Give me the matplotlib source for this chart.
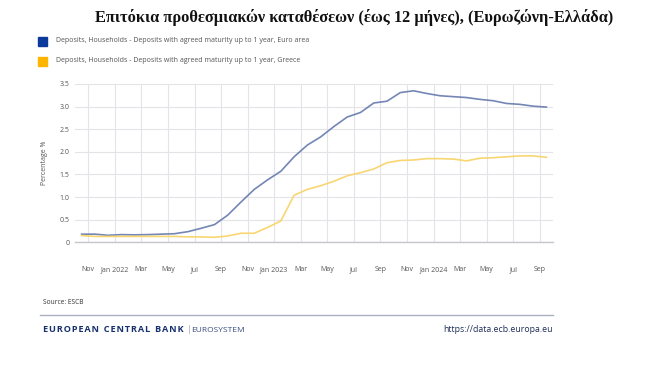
import matplotlib
matplotlib.use("Agg")
import matplotlib.pyplot as plt

# monthly values, Oct 2021 .. Sep 2024
euro_area = [0.18, 0.18, 0.155, 0.17, 0.165, 0.17, 0.18, 0.19, 0.235, 0.31, 0.39, 0.60,
             0.89, 1.17, 1.38, 1.57, 1.89, 2.15, 2.33, 2.56, 2.77, 2.87, 3.08, 3.12,
             3.31, 3.35, 3.29, 3.24, 3.22, 3.20, 3.16, 3.13, 3.07, 3.05, 3.01, 2.99]
greece = [0.15, 0.13, 0.13, 0.13, 0.13, 0.13, 0.13, 0.13, 0.12, 0.12, 0.11, 0.14,
          0.20, 0.20, 0.33, 0.47, 1.04, 1.17, 1.25, 1.35, 1.47, 1.54, 1.62, 1.76,
          1.81, 1.82, 1.85, 1.85, 1.84, 1.80, 1.86, 1.87, 1.89, 1.91, 1.91, 1.88]
tick_labels = ["Nov", "Jan 2022", "Mar", "May", "Jul", "Sep",
               "Nov", "Jan 2023", "Mar", "May", "Jul", "Sep",
               "Nov", "Jan 2024", "Mar", "May", "Jul", "Sep"]
y_ticks = [0, 0.5, 1.0, 1.5, 2.0, 2.5, 3.0, 3.5]
y_labels = ["0", "0.5", "1.0", "1.5", "2.0", "2.5", "3.0", "3.5"]

series_names = [
    "Deposits, Households - Deposits with agreed maturity up to 1 year, Euro area",
    "Deposits, Households - Deposits with agreed maturity up to 1 year, Greece",
]

BLUE = "#0b3a9c"
YELLOW = "#ffb400"
GRID = "#e4e4e8"
TXT = "#555555"

plt.rcParams["font.family"] = ["Open Sans", "DejaVu Sans"]

fig = plt.figure(figsize=(6.64, 3.91), dpi=100)
ax = fig.add_axes([75 / 664, 1 - 242.3 / 391, (553 - 75) / 664, (242.3 - 84) / 391])

x = [i + 0.5 for i in range(len(euro_area))]
ax.plot(x, euro_area, color="#6479ad", lw=1.2, alpha=0.9)
ax.plot(x, greece, color="#f8d46a", lw=1.2, alpha=0.95)

ax.set_xlim(0, 36)
ax.set_ylim(0, 3.5)
ax.set_xticks(range(1, 36, 2))
ax.set_xticklabels(tick_labels)
ax.set_yticks(y_ticks)
ax.set_yticklabels(y_labels)
ax.tick_params(axis="x", length=0, pad=17, labelsize=5, labelcolor=TXT)
ax.tick_params(axis="y", length=0, pad=4, labelsize=5, labelcolor=TXT)
ax.grid(True, color=GRID, lw=0.8)
ax.set_axisbelow(True)
for s in ["top", "right", "left"]:
    ax.spines[s].set_visible(False)
ax.spines["bottom"].set_color("#c4c6cc")
ax.spines["bottom"].set_linewidth(1.0)
ax.set_ylabel("Percentage %", fontsize=5, color=TXT, labelpad=8)

# title
fig.text(354 / 664, 1 - 18 / 391, "Επιτόκια προθεσμιακών καταθέσεων (έως 12 μήνες), (Ευρωζώνη-Ελλάδα)",
         ha="center", va="center", fontsize=11.8, fontweight="bold",
         family=["Liberation Serif", "DejaVu Serif"], color="#111111")

# legend
for k, (name, col) in enumerate(zip(series_names, [BLUE, YELLOW])):
    yy = 1 - (41 + 20 * k) / 391
    fig.patches.append(plt.Rectangle((38 / 664, yy - 4.5 / 391), 9 / 664, 9 / 391,
                                     transform=fig.transFigure, color=col, figure=fig))
    fig.text(56 / 664, yy, name, ha="left", va="center", fontsize=5.0, color=TXT)

# footer
fig.text(43 / 664, 1 - 302 / 391, "Source: ESCB", ha="left", va="center", fontsize=4.8, color="#333333")
fig.add_artist(plt.Line2D([40 / 664, 553 / 664], [1 - 315 / 391, 1 - 315 / 391],
                          transform=fig.transFigure, color="#aab0c0", lw=1.0))
fy = 1 - 330 / 391
# letter-spaced logo text
ecb_txt = "  ".join("\u200a".join(w) for w in ["EUROPEAN", "CENTRAL", "BANK"])
ecb = fig.text(43 / 664, fy, ecb_txt, ha="left", va="center",
               fontsize=6.6, fontweight="bold", color="#17306e")
fig.canvas.draw()
x_end = ecb.get_window_extent().x1 / fig.bbox.width
fig.text(x_end + 3 / 664, fy, "|", ha="left", va="center", fontsize=6.3, color="#9aa0b0")
fig.text(x_end + 8 / 664, fy, "EUROSYSTEM", ha="left", va="center",
         fontsize=6.0, color="#3a4c80")
fig.text(553 / 664, fy, "https://data.ecb.europa.eu", ha="right", va="center",
         fontsize=6.3, color="#1f2f5a")

fig.savefig("out.png", dpi=100)
